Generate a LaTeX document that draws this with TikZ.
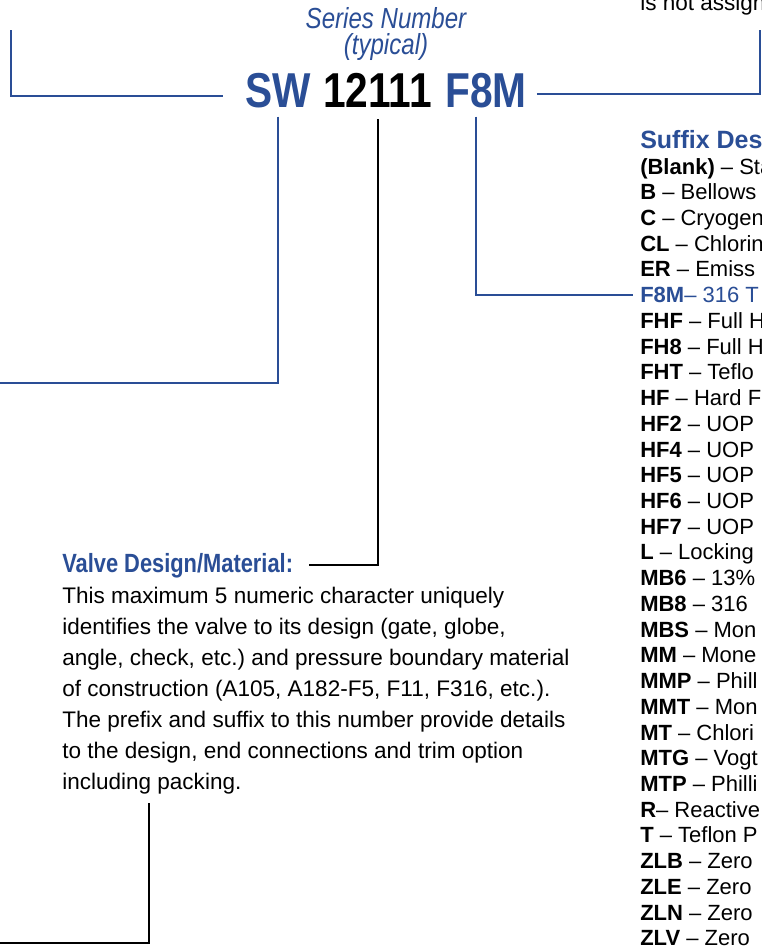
\documentclass[tikz,border=0pt]{standalone}
\usepackage{fontspec}
\setmainfont{Liberation Sans}
\newfontfamily\narrowfont[FakeStretch=0.83]{Liberation Sans}
\usepackage{tikz}
\usetikzlibrary{positioning}
\definecolor{ValveBlue}{HTML}{2A4E96}
\frenchspacing

\begin{document}
\begin{tikzpicture}[x=0.75pt,y=-0.75pt,
    navyline/.style={line width=1.5pt,ValveBlue},
    blackline/.style={line width=1.5pt,black},
    codepart/.style={inner sep=0pt,anchor=base west,font=\narrowfont\bfseries\fontsize{36.75}{40}\selectfont},
    sfx/.style={inner sep=0pt,anchor=base west,font=\fontsize{16.5}{19}\selectfont},
    sfxhead/.style={inner sep=0pt,anchor=base west,text=ValveBlue,font=\bfseries\fontsize{18.75}{22}\selectfont},
    vdhead/.style={inner sep=0pt,anchor=base west,text=ValveBlue,font=\narrowfont\bfseries\fontsize{19.75}{22}\selectfont},
    bodytext/.style={inner sep=0pt,anchor=north west,align=left,font=\fontsize{16.9}{23.25}\selectfont}]
    \useasboundingbox (0,0) rectangle (761,946);
    \fill[white] (0,0) rectangle (761,946);
    \clip (0,0) rectangle (761,946);
    \node[inner sep=0pt,anchor=north,align=center,text=ValveBlue,
      font=\narrowfont\itshape\fontsize{21.75}{20}\selectfont] (series) at (386,7)
      {Series Number\\(typical)};
    \node[codepart,text=ValveBlue] (sw) at (245,107) {SW};
    \node[codepart] (num) at (323,107) {12111};
    \node[codepart,text=ValveBlue] (f8m) at (445,107) {F8M};
    \node[sfx,font=\fontsize{16.9}{19}\selectfont] (isnot) at (640,10) {is not assign};
    \node[sfxhead] (sfxhd) at (640,148) {Suffix Des};
    \foreach \n/\code/\desc in {0/(Blank)/Sta,1/B/Bellows,2/C/Cryogen,3/CL/Chlorin,4/ER/Emiss,
      6/FHF/Full H,7/FH8/Full H,8/FHT/Teflo,9/HF/Hard F,10/HF2/UOP,11/HF4/UOP,12/HF5/UOP,
      13/HF6/UOP,14/HF7/UOP,15/L/Locking,16/MB6/13\%,17/MB8/316,18/MBS/Mon,19/MM/Mone,
      20/MMP/Phill,21/MMT/Mon,22/MT/Chlori,23/MTG/Vogt,24/MTP/Philli,26/T/Teflon P,
      27/ZLB/Zero,28/ZLE/Zero,29/ZLN/Zero,30/ZLV/Zero}{
      \node[sfx] (sfx\n) at (640,{174+25.73*\n}) {\textbf{\code} – \desc};}
    \node[sfx,text=ValveBlue] (sfx5) at (640,{174+25.73*5}) {\textbf{F8M}– 316 T};
    \node[sfx] (sfx25) at (640,{174+25.73*25}) {\textbf{R}– Reactive};
    \node[vdhead] (vdhd) at (62,572) {Valve Design/Material:};
    \node[bodytext] (vdtext) at (62,587)
      {This maximum 5 numeric character uniquely\\
       identifies the valve to its design (gate, globe,\\
       angle, check, etc.) and pressure boundary material\\
       of construction (A105, A182-F5, F11, F316, etc.).\\
       The prefix and suffix to this number provide details\\
       to the design, end connections and trim option\\
       including packing.};
    \coordinate (ltop) at (11,30);
    \coordinate (rtop) at (760,30);
    \coordinate (swend) at (0,383);
    \coordinate (pk) at (149,803);
    \coordinate (pkend) at (0,943);
    \draw[navyline,shorten >=16.5pt] (ltop) |- ([yshift=-4.5pt]sw.west);
    \draw[navyline,shorten <=7.5pt] ([yshift=-3pt]f8m.east) -| (rtop);
    \draw[navyline,shorten <=6.75pt] (sw.south) |- (swend);
    \draw[blackline,shorten <=9pt,shorten >=12pt] (num.south) |- (vdhd.east);
    \draw[navyline,shorten <=6.75pt,shorten >=5.25pt] ([xshift=-7.5pt]f8m.south) |- (sfx5.west);
    \draw[blackline] (pk) |- (pkend);
  \end{tikzpicture}
\end{document}
